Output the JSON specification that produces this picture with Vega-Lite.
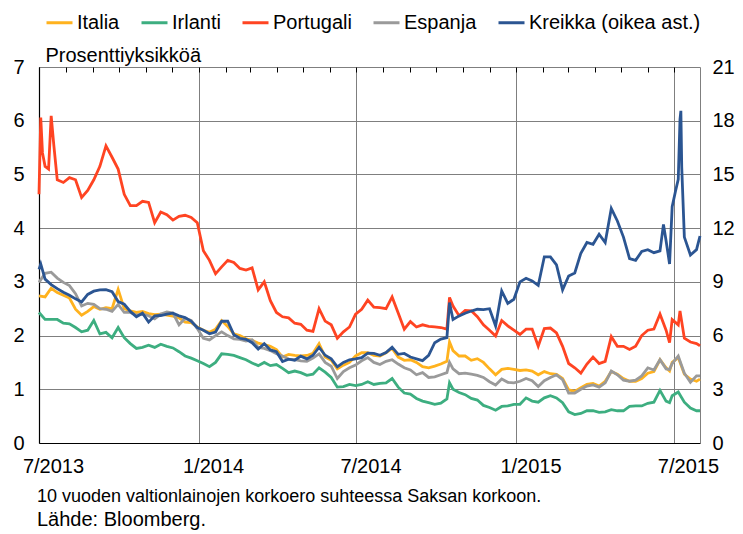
{
"$schema":"https://vega.github.io/schema/vega-lite/v6.json",
"width":661,"height":376,"autosize":"none",
"padding":{"left":39,"top":67,"right":43,"bottom":91},
"background":"white",
"config":{"font":"Liberation Sans","view":{"stroke":null},
"legend":{"orient":"none","legendX":6,"legendY":-59,"direction":"horizontal","columns":5,"symbolType":"stroke","symbolSize":676,"symbolStrokeWidth":3,"labelFontSize":20,"labelColor":"#000","labelOffset":3,"columnPadding":15,"padding":0,"labelLimit":400}},
"title":{"text":"10 vuoden valtionlainojen korkoero suhteessa Saksan korkoon.","subtitle":"Lähde: Bloomberg.","orient":"bottom","anchor":"start","frame":"group","fontSize":18,"subtitleFontSize":20,"fontWeight":"normal","color":"#000","subtitleColor":"#000","offset":12,"subtitlePadding":4,"dx":-2},
"data":{"values":[
{"d":"2013-07-01","it":2.74,"ir":2.43,"pt":4.63,"es":2.99,"gr":9.70},
{"d":"2013-07-03","pt":6.06,"gr":10.0},
{"d":"2013-07-05","pt":5.40},
{"d":"2013-07-08","it":2.72,"ir":2.30,"pt":5.15,"es":3.16,"gr":9.15},
{"d":"2013-07-12","pt":5.10},
{"d":"2013-07-15","it":2.88,"ir":2.30,"pt":6.09,"es":3.18,"gr":8.85},
{"d":"2013-07-18","pt":5.55},
{"d":"2013-07-22","it":2.80,"ir":2.30,"pt":4.90,"es":3.07,"gr":8.62},
{"d":"2013-07-29","it":2.75,"ir":2.23,"pt":4.85,"es":2.99,"gr":8.42},
{"d":"2013-08-05","it":2.70,"ir":2.22,"pt":4.94,"es":2.93,"gr":8.25},
{"d":"2013-08-12","it":2.49,"ir":2.15,"pt":4.90,"es":2.78,"gr":8.05},
{"d":"2013-08-19","it":2.38,"ir":2.07,"pt":4.57,"es":2.55,"gr":7.88},
{"d":"2013-08-26","it":2.45,"ir":2.10,"pt":4.70,"es":2.60,"gr":8.30},
{"d":"2013-09-02","it":2.54,"ir":2.28,"pt":4.90,"es":2.58,"gr":8.48},
{"d":"2013-09-09","it":2.49,"ir":2.03,"pt":5.15,"es":2.50,"gr":8.55},
{"d":"2013-09-16","it":2.52,"ir":2.06,"pt":5.53,"es":2.49,"gr":8.57},
{"d":"2013-09-23","it":2.50,"ir":1.96,"pt":5.32,"es":2.45,"gr":8.45},
{"d":"2013-09-30","it":2.86,"ir":2.15,"pt":5.10,"es":2.58,"gr":7.90},
{"d":"2013-10-07","it":2.50,"ir":1.96,"pt":4.63,"es":2.43,"gr":7.75},
{"d":"2013-10-14","it":2.46,"ir":1.85,"pt":4.42,"es":2.43,"gr":7.35},
{"d":"2013-10-21","it":2.43,"ir":1.76,"pt":4.42,"es":2.38,"gr":7.05},
{"d":"2013-10-28","it":2.45,"ir":1.78,"pt":4.50,"es":2.40,"gr":7.25},
{"d":"2013-11-04","it":2.41,"ir":1.82,"pt":4.48,"es":2.37,"gr":6.75},
{"d":"2013-11-11","it":2.39,"ir":1.78,"pt":4.10,"es":2.31,"gr":7.10},
{"d":"2013-11-18","it":2.40,"ir":1.84,"pt":4.30,"es":2.40,"gr":7.12},
{"d":"2013-11-25","it":2.38,"ir":1.80,"pt":4.25,"es":2.44,"gr":7.20},
{"d":"2013-12-02","it":2.36,"ir":1.77,"pt":4.15,"es":2.42,"gr":7.25},
{"d":"2013-12-09","it":2.33,"ir":1.70,"pt":4.22,"es":2.20,"gr":7.10},
{"d":"2013-12-16","it":2.25,"ir":1.62,"pt":4.24,"es":2.32,"gr":7.00},
{"d":"2013-12-23","it":2.24,"ir":1.58,"pt":4.20,"es":2.28,"gr":6.80},
{"d":"2013-12-30","it":2.16,"ir":1.53,"pt":4.10,"es":2.13,"gr":6.45},
{"d":"2014-01-06","it":2.10,"ir":1.48,"pt":3.58,"es":1.95,"gr":6.30},
{"d":"2014-01-13","it":2.06,"ir":1.42,"pt":3.40,"es":1.92,"gr":6.10},
{"d":"2014-01-20","it":2.12,"ir":1.50,"pt":3.15,"es":2.00,"gr":6.20},
{"d":"2014-01-27","it":2.28,"ir":1.66,"pt":3.28,"es":2.07,"gr":6.80},
{"d":"2014-02-03","it":2.17,"ir":1.65,"pt":3.40,"es":2.00,"gr":6.80},
{"d":"2014-02-10","it":2.03,"ir":1.63,"pt":3.36,"es":1.94,"gr":6.05},
{"d":"2014-02-17","it":2.00,"ir":1.59,"pt":3.25,"es":1.93,"gr":5.85},
{"d":"2014-02-24","it":1.94,"ir":1.55,"pt":3.22,"es":1.90,"gr":5.79},
{"d":"2014-03-03","it":1.91,"ir":1.49,"pt":3.26,"es":1.92,"gr":5.60},
{"d":"2014-03-10","it":1.86,"ir":1.44,"pt":2.85,"es":1.78,"gr":5.25},
{"d":"2014-03-17","it":1.83,"ir":1.50,"pt":3.00,"es":1.76,"gr":5.55},
{"d":"2014-03-24","it":1.80,"ir":1.44,"pt":2.65,"es":1.72,"gr":5.20},
{"d":"2014-03-31","it":1.74,"ir":1.46,"pt":2.43,"es":1.66,"gr":5.10},
{"d":"2014-04-07","it":1.60,"ir":1.39,"pt":2.35,"es":1.62,"gr":4.55},
{"d":"2014-04-14","it":1.65,"ir":1.31,"pt":2.33,"es":1.56,"gr":4.68},
{"d":"2014-04-21","it":1.63,"ir":1.34,"pt":2.23,"es":1.55,"gr":4.62},
{"d":"2014-04-28","it":1.62,"ir":1.31,"pt":2.21,"es":1.53,"gr":4.85},
{"d":"2014-05-05","it":1.63,"ir":1.26,"pt":2.10,"es":1.52,"gr":4.70},
{"d":"2014-05-12","it":1.67,"ir":1.28,"pt":2.08,"es":1.58,"gr":4.90},
{"d":"2014-05-19","it":1.85,"ir":1.40,"pt":2.50,"es":1.66,"gr":5.35},
{"d":"2014-05-26","it":1.60,"ir":1.32,"pt":2.27,"es":1.50,"gr":4.90},
{"d":"2014-06-02","it":1.54,"ir":1.22,"pt":2.20,"es":1.43,"gr":4.70},
{"d":"2014-06-09","it":1.38,"ir":1.04,"pt":1.95,"es":1.20,"gr":4.25},
{"d":"2014-06-16","it":1.45,"ir":1.05,"pt":2.07,"es":1.33,"gr":4.50},
{"d":"2014-06-23","it":1.50,"ir":1.09,"pt":2.16,"es":1.40,"gr":4.65},
{"d":"2014-06-30","it":1.62,"ir":1.07,"pt":2.40,"es":1.45,"gr":4.70},
{"d":"2014-07-07","it":1.68,"ir":1.09,"pt":2.49,"es":1.53,"gr":4.77},
{"d":"2014-07-14","it":1.68,"ir":1.14,"pt":2.66,"es":1.59,"gr":5.02},
{"d":"2014-07-21","it":1.63,"ir":1.09,"pt":2.53,"es":1.50,"gr":5.00},
{"d":"2014-07-28","it":1.62,"ir":1.11,"pt":2.52,"es":1.46,"gr":4.90},
{"d":"2014-08-04","it":1.68,"ir":1.12,"pt":2.50,"es":1.52,"gr":5.05},
{"d":"2014-08-11","it":1.76,"ir":1.20,"pt":2.72,"es":1.55,"gr":5.35},
{"d":"2014-08-18","it":1.60,"ir":1.04,"pt":2.42,"es":1.47,"gr":4.95},
{"d":"2014-08-25","it":1.54,"ir":0.93,"pt":2.12,"es":1.40,"gr":5.00},
{"d":"2014-09-01","it":1.55,"ir":0.91,"pt":2.26,"es":1.36,"gr":4.80},
{"d":"2014-09-08","it":1.50,"ir":0.83,"pt":2.16,"es":1.27,"gr":4.70},
{"d":"2014-09-15","it":1.42,"ir":0.78,"pt":2.20,"es":1.31,"gr":4.60},
{"d":"2014-09-22","it":1.40,"ir":0.75,"pt":2.17,"es":1.22,"gr":4.90},
{"d":"2014-09-29","it":1.43,"ir":0.72,"pt":2.16,"es":1.23,"gr":5.60},
{"d":"2014-10-06","it":1.47,"ir":0.74,"pt":2.15,"es":1.27,"gr":5.80},
{"d":"2014-10-13","it":1.52,"ir":0.82,"pt":2.12,"es":1.31,"gr":5.88},
{"d":"2014-10-16","it":1.88,"ir":1.12,"pt":2.71,"es":1.50,"gr":7.84},
{"d":"2014-10-20","it":1.72,"ir":1.00,"pt":2.55,"es":1.38,"gr":6.90},
{"d":"2014-10-27","it":1.62,"ir":0.94,"pt":2.37,"es":1.29,"gr":7.10},
{"d":"2014-11-03","it":1.62,"ir":0.90,"pt":2.47,"es":1.30,"gr":7.25},
{"d":"2014-11-10","it":1.54,"ir":0.83,"pt":2.46,"es":1.28,"gr":7.37},
{"d":"2014-11-17","it":1.57,"ir":0.80,"pt":2.35,"es":1.26,"gr":7.47},
{"d":"2014-11-24","it":1.50,"ir":0.70,"pt":2.20,"es":1.22,"gr":7.45},
{"d":"2014-12-01","it":1.38,"ir":0.66,"pt":2.10,"es":1.14,"gr":7.50},
{"d":"2014-12-08","it":1.27,"ir":0.61,"pt":1.99,"es":1.08,"gr":6.54},
{"d":"2014-12-15","it":1.37,"ir":0.68,"pt":2.28,"es":1.19,"gr":8.49},
{"d":"2014-12-22","it":1.39,"ir":0.69,"pt":2.18,"es":1.13,"gr":7.80},
{"d":"2014-12-29","it":1.37,"ir":0.72,"pt":2.10,"es":1.12,"gr":8.03},
{"d":"2015-01-05","it":1.35,"ir":0.72,"pt":2.02,"es":1.15,"gr":9.00},
{"d":"2015-01-12","it":1.36,"ir":0.84,"pt":2.12,"es":1.20,"gr":9.20},
{"d":"2015-01-19","it":1.34,"ir":0.78,"pt":2.12,"es":1.16,"gr":9.05},
{"d":"2015-01-26","it":1.27,"ir":0.76,"pt":1.80,"es":1.05,"gr":8.80},
{"d":"2015-02-02","it":1.33,"ir":0.84,"pt":2.13,"es":1.16,"gr":10.40},
{"d":"2015-02-09","it":1.29,"ir":0.88,"pt":2.14,"es":1.22,"gr":10.40},
{"d":"2015-02-16","it":1.28,"ir":0.84,"pt":2.05,"es":1.27,"gr":9.95},
{"d":"2015-02-23","it":1.20,"ir":0.75,"pt":1.80,"es":1.18,"gr":8.55},
{"d":"2015-03-02","it":0.99,"ir":0.58,"pt":1.48,"es":0.93,"gr":9.33},
{"d":"2015-03-09","it":0.96,"ir":0.53,"pt":1.40,"es":0.93,"gr":9.50},
{"d":"2015-03-16","it":1.03,"ir":0.55,"pt":1.30,"es":1.00,"gr":10.60},
{"d":"2015-03-23","it":1.09,"ir":0.60,"pt":1.47,"es":1.06,"gr":11.20},
{"d":"2015-03-30","it":1.11,"ir":0.60,"pt":1.60,"es":1.08,"gr":11.10},
{"d":"2015-04-06","it":1.06,"ir":0.57,"pt":1.48,"es":1.04,"gr":11.66},
{"d":"2015-04-13","it":1.15,"ir":0.58,"pt":1.52,"es":1.12,"gr":11.20},
{"d":"2015-04-20","it":1.33,"ir":0.62,"pt":1.98,"es":1.34,"gr":13.10},
{"d":"2015-04-27","it":1.28,"ir":0.60,"pt":1.80,"es":1.27,"gr":12.40},
{"d":"2015-05-04","it":1.20,"ir":0.60,"pt":1.80,"es":1.17,"gr":11.50},
{"d":"2015-05-11","it":1.15,"ir":0.68,"pt":1.74,"es":1.15,"gr":10.30},
{"d":"2015-05-18","it":1.15,"ir":0.69,"pt":1.80,"es":1.17,"gr":10.20},
{"d":"2015-05-25","it":1.20,"ir":0.69,"pt":2.00,"es":1.25,"gr":10.70},
{"d":"2015-06-01","it":1.30,"ir":0.74,"pt":2.10,"es":1.40,"gr":10.80},
{"d":"2015-06-08","it":1.33,"ir":0.76,"pt":2.12,"es":1.36,"gr":10.63},
{"d":"2015-06-15","it":1.55,"ir":0.98,"pt":2.40,"es":1.55,"gr":10.73},
{"d":"2015-06-19","gr":12.21},
{"d":"2015-06-22","it":1.40,"ir":0.78,"pt":2.10,"es":1.38,"gr":11.30},
{"d":"2015-06-26","it":1.34,"ir":0.75,"pt":1.87,"es":1.37,"gr":10.0},
{"d":"2015-06-29","it":1.50,"ir":0.88,"pt":2.30,"es":1.48,"gr":13.20},
{"d":"2015-07-03","gr":14.1},
{"d":"2015-07-06","it":1.59,"ir":0.95,"pt":2.20,"es":1.62,"gr":14.73},
{"d":"2015-07-08","pt":2.46,"gr":18.08},
{"d":"2015-07-09","gr":18.55},
{"d":"2015-07-10","gr":15.4},
{"d":"2015-07-13","it":1.28,"ir":0.76,"pt":1.95,"es":1.30,"gr":11.5},
{"d":"2015-07-20","it":1.19,"ir":0.65,"pt":1.88,"es":1.13,"gr":10.50},
{"d":"2015-07-27","it":1.15,"ir":0.60,"pt":1.85,"es":1.25,"gr":10.80},
{"d":"2015-07-31","it":1.19,"ir":0.60,"pt":1.81,"es":1.25,"gr":11.56}
]},
"transform":[{"fold":["it","ir","pt","es","gr"],"as":["s","v"]},{"filter":"isValid(datum.v)"}],
"layer":[
{"transform":[{"filter":"datum.s !== 'gr'"}],
"mark":{"type":"line","strokeWidth":2.8,"invalid":"filter"},
"encoding":{
"x":{"field":"d","type":"temporal","timeUnit":"utcyearmonthdate","scale":{"domain":[{"year":2013,"month":7,"date":1,"utc":true},{"year":2015,"month":7,"date":31,"utc":true}]},
"axis":{"title":null,"format":"%-m/%Y","values":[{"year":2013,"month":7,"date":1,"utc":true},{"year":2014,"month":1,"date":1,"utc":true},{"year":2014,"month":7,"date":1,"utc":true},{"year":2015,"month":1,"date":1,"utc":true},{"year":2015,"month":7,"date":1,"utc":true}],"grid":true,"gridColor":"#7f7f7f","gridWidth":1,"ticks":false,"tickSize":0,"domainColor":"#000","domainWidth":1.2,"labelFontSize":20,"labelColor":"#000","labelOffset":14,"labelPadding":13,"labelFlush":false,"labelOverlap":false}},
"y":{"field":"v","type":"quantitative","scale":{"domain":[0,7]},
"axis":{"values":[0,1,2,3,4,5,6,7],"grid":true,"gridColor":"#7f7f7f","gridWidth":1,"ticks":false,"tickSize":0,"domainColor":"#000","domainWidth":1.2,"labelFontSize":20,"labelColor":"#000","labelPadding":15,"title":"Prosenttiyksikköä","titleAngle":0,"titleAlign":"left","titleBaseline":"alphabetic","titleX":6,"titleY":-6,"titleFontSize":20,"titleFontWeight":"normal","titleColor":"#000"}},
"color":{"field":"s","type":"nominal","scale":{"domain":["it","ir","pt","es","gr"],"range":["#FFB21E","#3DAE80","#FF4422","#9A9A9A","#2B5592"]},
"legend":{"title":null,"labelExpr":"{'it':'Italia','ir':'Irlanti','pt':'Portugali','es':'Espanja','gr':'Kreikka (oikea ast.)'}[datum.label]"}}}},
{"transform":[{"filter":"datum.s === 'gr'"}],
"mark":{"type":"line","strokeWidth":2.8,"invalid":"filter"},
"encoding":{
"x":{"field":"d","type":"temporal","timeUnit":"utcyearmonthdate",
"axis":{"title":null,"labels":false,"grid":false,"domain":false,"ticks":true,"tickSize":5,"tickColor":"#000","offset":-5,"values":[{"year":2013,"month":7,"date":1,"utc":true},{"year":2013,"month":8,"date":1,"utc":true},{"year":2013,"month":9,"date":1,"utc":true},{"year":2013,"month":10,"date":1,"utc":true},{"year":2013,"month":11,"date":1,"utc":true},{"year":2013,"month":12,"date":1,"utc":true},{"year":2014,"month":1,"date":1,"utc":true},{"year":2014,"month":2,"date":1,"utc":true},{"year":2014,"month":3,"date":1,"utc":true},{"year":2014,"month":4,"date":1,"utc":true},{"year":2014,"month":5,"date":1,"utc":true},{"year":2014,"month":6,"date":1,"utc":true},{"year":2014,"month":7,"date":1,"utc":true},{"year":2014,"month":8,"date":1,"utc":true},{"year":2014,"month":9,"date":1,"utc":true},{"year":2014,"month":10,"date":1,"utc":true},{"year":2014,"month":11,"date":1,"utc":true},{"year":2014,"month":12,"date":1,"utc":true},{"year":2015,"month":1,"date":1,"utc":true},{"year":2015,"month":2,"date":1,"utc":true},{"year":2015,"month":3,"date":1,"utc":true},{"year":2015,"month":4,"date":1,"utc":true},{"year":2015,"month":5,"date":1,"utc":true},{"year":2015,"month":6,"date":1,"utc":true},{"year":2015,"month":7,"date":1,"utc":true}]}},
"y":{"field":"v","type":"quantitative","scale":{"domain":[0,21]},
"axis":{"orient":"right","values":[0,3,6,9,12,15,18,21],"grid":false,"ticks":false,"tickSize":0,"domainColor":"#7f7f7f","domainWidth":1,"labelFontSize":20,"labelColor":"#000","labelPadding":12,"title":null}},
"color":{"field":"s","type":"nominal"}}}
],
"resolve":{"scale":{"y":"independent"},"axis":{"x":"independent"}}
}
